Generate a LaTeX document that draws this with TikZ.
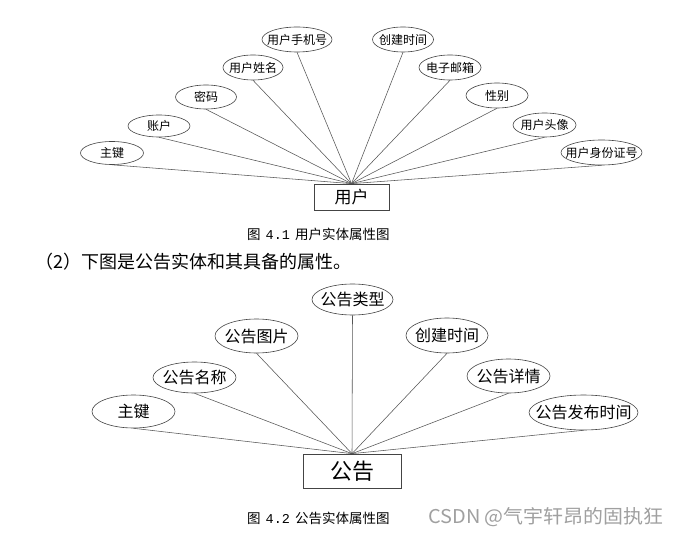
\documentclass[tikz,border=0pt]{standalone}
\usepackage{fontspec}
\setmainfont{Noto Sans CJK SC}
\newfontfamily\monof{Liberation Mono}
\usetikzlibrary{shapes.geometric}
\definecolor{linec}{HTML}{555555}
\definecolor{edgec}{HTML}{444444}
\definecolor{wmc}{HTML}{A0A0A0}
\begin{document}
\begin{tikzpicture}[x=1pt,y=-1pt,
  attrA/.style={ellipse,draw=edgec,line width=0.6pt,inner sep=0pt},
  attrB/.style={ellipse,draw=edgec,line width=0.6pt,inner sep=0pt},
  lblA/.style={inner sep=0pt,font=\fontsize{12}{12}\selectfont},
  lblB/.style={inner sep=0pt,font=\fontsize{16}{16}\selectfont},
  ent/.style={rectangle,draw=edgec,line width=0.7pt,inner sep=0pt},
  conn/.style={draw=linec,line width=0.55pt},
  captext/.style={inner sep=0pt,font=\fontsize{13.5}{13.5}\selectfont}]
\useasboundingbox[fill=white] (0,0) rectangle (676,534);

% ---- top diagram ----
\node[ent,minimum width=75,minimum height=26,font=\fontsize{17}{17}\selectfont] (user) at (351.5,197) {用户};
\node[attrA,minimum width=63,minimum height=23,label={[lblA]center:主键}] (u1) at (112,153) {};
\node[attrA,minimum width=62,minimum height=22,label={[lblA]center:账户}] (u2) at (159,126) {};
\node[attrA,minimum width=61,minimum height=24,label={[lblA]center:密码}] (u3) at (206,97) {};
\node[attrA,minimum width=60,minimum height=25,label={[lblA]center:用户姓名}] (u4) at (253,67.5) {};
\node[attrA,minimum width=70,minimum height=25,label={[lblA]center:用户手机号}] (u5) at (297,39.5) {};
\node[attrA,minimum width=61,minimum height=25,label={[lblA]center:创建时间}] (u6) at (403,39.5) {};
\node[attrA,minimum width=62,minimum height=25,label={[lblA]center:电子邮箱}] (u7) at (450,67.5) {};
\node[attrA,minimum width=62,minimum height=25,label={[lblA]center:性别}] (u8) at (497,95.5) {};
\node[attrA,minimum width=63,minimum height=24,label={[lblA]center:用户头像}] (u9) at (544.5,125) {};
\node[attrA,minimum width=81,minimum height=25,label={[lblA]center:用户身份证号}] (u10) at (601.5,152.5) {};
\foreach \i in {1,...,10} {\draw[conn] (u\i.south) -- (user.north);}

\node[captext,anchor=west] (cap1) at (247,234) {图\hspace{5pt}{\monof 4.1}\hspace{5pt}用户实体属性图};
\node[inner sep=0pt,anchor=west,font=\fontsize{18}{18}\selectfont] (para) at (35,262) {（2）下图是公告实体和其具备的属性。};

% ---- bottom diagram ----
\node[ent,minimum width=98,minimum height=34,font=\fontsize{22}{22}\selectfont] (notice) at (352,471) {公告};
\node[attrB,minimum width=83,minimum height=33,label={[lblB]center:主键}] (n1) at (133.5,411.5) {};
\node[attrB,minimum width=83,minimum height=31,label={[lblB]center:公告名称}] (n2) at (194.5,377.5) {};
\node[attrB,minimum width=83,minimum height=34,label={[lblB]center:公告图片}] (n3) at (256.5,336) {};
\node[attrB,minimum width=81,minimum height=31,label={[lblB]center:公告类型}] (n4) at (352.5,299.5) {};
\node[attrB,minimum width=82,minimum height=35,label={[lblB]center:创建时间}] (n5) at (447,335.5) {};
\node[attrB,minimum width=83,minimum height=34,label={[lblB]center:公告详情}] (n6) at (508.5,376) {};
\node[attrB,minimum width=109,minimum height=35,label={[lblB]center:公告发布时间}] (n7) at (583.5,412.5) {};
\foreach \i in {1,...,7} {\draw[conn] (n\i.south) -- (notice.north);}

\node[captext,anchor=west] (cap2) at (247,518) {图\hspace{5pt}{\monof 4.2}\hspace{5pt}公告实体属性图};
\node[inner sep=0pt,anchor=west,text=wmc,font=\fontsize{19}{19}\selectfont] (wm) at (428,517) {\scalebox{1.05}[1]{CSDN @气宇轩昂的固执狂}};
\end{tikzpicture}
\end{document}
